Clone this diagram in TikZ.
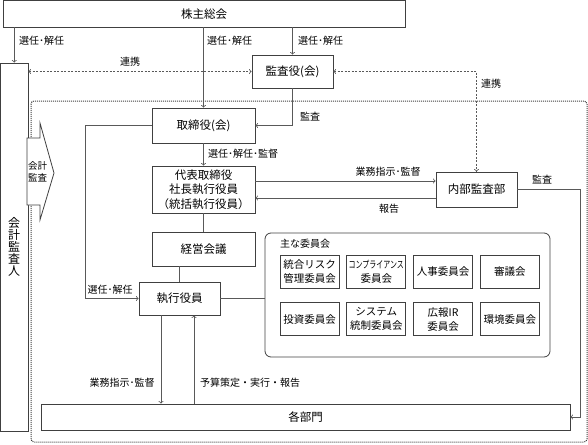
\documentclass[tikz,border=0pt]{standalone}
\usepackage{fontspec}
\setmainfont{Noto Sans CJK JP}
\usepackage{graphicx}
\usepackage{tikz}
\usetikzlibrary{arrows, calc, positioning}
\tikzstyle{block} = [rectangle, draw=black!75, line width=0.8pt, fill=white, align=center, inner sep=0pt, font=\fontsize{11.5}{14.5}\selectfont]
\tikzstyle{committee} = [rectangle, draw=black!75, line width=0.8pt, minimum width=59pt, minimum height=33pt, align=center, inner sep=0pt, font=\fontsize{10.5}{14}\selectfont]
\tikzstyle{edgetext} = [inner sep=0pt, font=\fontsize{10}{12}\selectfont]
\tikzstyle{wire} = [draw=black!65, line width=0.8pt]
\tikzstyle{arrow} = [wire, ->, >=to]
\tikzstyle{link} = [draw=black!65, line width=0.8pt, dash pattern=on 2pt off 1.5pt, <->, >=to]
\tikzstyle{group} = [draw=black!75, line width=1pt, dash pattern=on 1pt off 1pt, rounded corners=3pt]

\begin{document}
\begin{tikzpicture}[x=1pt, y=-1pt, node distance = 7pt, auto]
		\useasboundingbox (0,0) rectangle (588,444);
		% frame of the executive side
		\draw [group] (31,101) rectangle (587,442);
		\node (Shareholders) [block, minimum width=402pt, minimum height=26.5pt] at (204,13.75) {株主総会};
		\node (Auditor) [block, minimum width=27.5pt, minimum height=368pt, font=\fontsize{12}{12}\selectfont] at (14.25,247) {会\\計\\監\\査\\人};
		\node (AuditBoard) [block, minimum width=81pt, minimum height=33pt] at (292.5,71.5) {監査役(会)};
		\node (Board) [block, minimum width=103pt, minimum height=35pt] at (203.5,125.5) {取締役(会)};
		\node (Representative) [block, minimum width=103pt, minimum height=47pt] at (203.5,189.5) {代表取締役\\社長執行役員\\（統括執行役員）};
		\node (InternalAudit) [block, minimum width=81pt, minimum height=35pt] at (476.5,189.5) {内部監査部};
		\node (Meeting) [block, minimum width=103pt, minimum height=34pt] at (203.5,249) {経営会議};
		\node (Executive) [block, minimum width=81pt, minimum height=33pt] at (179.5,298.5) {執行役員};
		\node (Depts) [block, minimum width=529pt, minimum height=26pt] at (305.5,417) {各部門};
		% committees
		\node (Committees) [rectangle, draw=black!75, line width=0.8pt, rounded corners=6pt, minimum width=285pt, minimum height=124pt] at (407.5,295) {};
		\node (CommitteesTitle) [edgetext, anchor=west] at (280,244) {主な委員会};
		\node (Risk) [committee] at (309.5,271.5) {統合リスク\\管理委員会};
		\node (Compliance) [committee, right = of Risk] {\scalebox{0.7}[1]{\fontsize{10}{12}\selectfont コンプライアンス}\\委員会};
		\node (Personnel) [committee, right = of Compliance] {人事委員会};
		\node (Deliberation) [committee, right = of Personnel] {審議会};
		\node (Investment) [committee, below = 14pt of Risk] {投資委員会};
		\node (System) [committee, right = of Investment] {システム\\統制委員会};
		\node (PublicIR) [committee, right = of System] {広報IR\\委員会};
		\node (Environment) [committee, right = of PublicIR] {環境委員会};
		% accounting audit arrow
		\draw [draw=black!75, line width=0.8pt, fill=white] (27,138) -- (40,138) -- (40,123) -- (54,173) -- (40,220) -- (40,205) -- (27,205) -- cycle;
		\node (AccountingAudit) [align=center, inner sep=0pt, font=\fontsize{9.5}{12}\selectfont] at (37.5,172) {会計\\監査};
		% labels
		\node (ElectAuditor) [edgetext, anchor=west] at (19,41) {選任･解任};
		\node (ElectBoard) [edgetext, anchor=west] at (207,41) {選任･解任};
		\node (ElectAuditBoard) [edgetext, anchor=west] at (298,41) {選任･解任};
		\node (LinkLeft) [edgetext] at (130,62) {連携};
		\node (LinkRight) [edgetext, anchor=west] at (481,84) {連携};
		\node (AuditBoardText) [edgetext, anchor=west] at (300,117) {監査};
		\node (SuperviseText) [edgetext, anchor=west] at (208,154) {選任･解任･監督};
		\node (InstructText) [edgetext] at (388,172) {業務指示･監督};
		\node (ReportText) [edgetext] at (389,209) {報告};
		\node (InternalAuditText) [edgetext] at (542,180) {監査};
		\node (ElectExecutive) [edgetext] at (110,290) {選任･解任};
		\node (DeptInstructText) [edgetext] at (122,383) {業務指示･監督};
		\node (BudgetText) [edgetext] at (250,383) {予算策定・実行・報告};
		% connectors
		\draw [arrow] (Shareholders.south -| Auditor.north) -- (Auditor.north);
		\draw [arrow] (Shareholders.south -| Board.north) -- (Board.north);
		\draw [arrow] (Shareholders.south -| AuditBoard.north) -- (AuditBoard.north);
		\draw [link] (Auditor.east |- AuditBoard.west) -- (AuditBoard.west);
		\draw [link] (AuditBoard.east) -| (InternalAudit.north);
		\draw [arrow] (AuditBoard.south) |- (Board.east);
		\draw [arrow] (Board.south) -- (Representative.north);
		\draw [arrow] ([yshift=8.5pt]Representative.east) -- ([yshift=8.5pt]InternalAudit.west);
		\draw [arrow] ([yshift=-8.5pt]InternalAudit.west) -- ([yshift=-8.5pt]Representative.east);
		\draw [arrow] (InternalAudit.east) -- ++(63,0) |- (Depts.east);
		\draw [wire] (Representative.south) -- (Meeting.north);
		\draw [wire] (Executive.north |- Meeting.south) -- (Executive.north);
		\draw [arrow] (Board.west) -- ++(-66,0) |- (Executive.west);
		\draw [wire] (Executive.east) -- (Executive.east -| Committees.west);
		\draw [arrow] ([xshift=-18.5pt]Executive.south) -- ([xshift=-18.5pt]Executive.south |- Depts.north);
		\draw [arrow] ([xshift=14.5pt]Executive.south |- Depts.north) -- ([xshift=14.5pt]Executive.south);
\end{tikzpicture}
\end{document}
